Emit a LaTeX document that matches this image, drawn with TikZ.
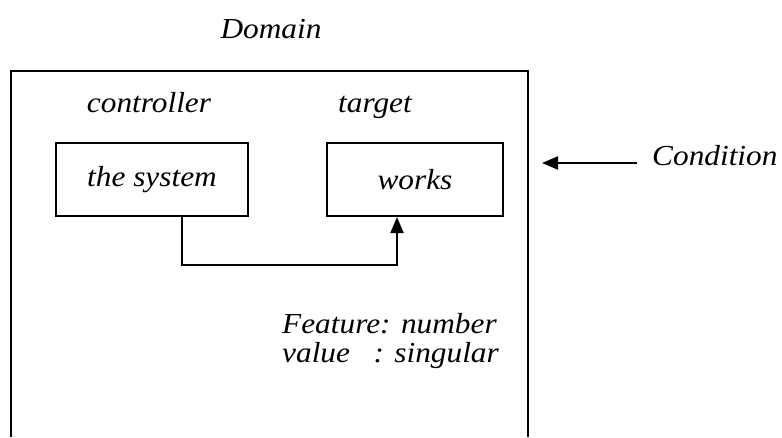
\documentclass[tikz,border=0pt]{standalone}
\usepackage{fontspec}
\setmainfont{Liberation Serif}[FakeStretch=1.08]
\usetikzlibrary{arrows.meta,positioning}

\begin{document}
\begin{tikzpicture}[x=1pt,y=-1pt,
  every node/.style={font=\fontsize{29}{34}\selectfont\itshape, inner sep=0pt},
  wordbox/.style={draw, line width=2pt, minimum height=73pt},
  link/.style={line width=2pt, -{Triangle[length=16pt,width=13pt]}}]
\useasboundingbox (0,0) rectangle (782,437);

% frame of the domain, open at the bottom
\draw[line width=2pt] (11,437) -- (11,71) -- (528,71) -- (528,437);

\node[anchor=base] (dom) at (271,38) {Domain};
\node[anchor=base] (ctrl) at (149,112) {controller};
\node[anchor=base] (tgt) at (375,112) {target};
\node[wordbox, minimum width=192pt] (sys) at (152,179.5) {the system};
\node[wordbox, minimum width=176pt] (works) at (415,179.5) {works};
\node[anchor=base west] (feat) at (282,333) {Feature: number};
\node[anchor=base west] (val) at (282,362) {value\ \ \ : singular};
\node[anchor=base west] (cond) at (652,165) {Condition};

\coordinate (tail) at (637,163);
\coordinate (tip) at (542,163);

\draw[link] ([xshift=30pt]sys.south) -- ++(0,48) -| ([xshift=-18pt]works.south);
\draw[link] (tail) -- (tip);
\end{tikzpicture}
\end{document}
